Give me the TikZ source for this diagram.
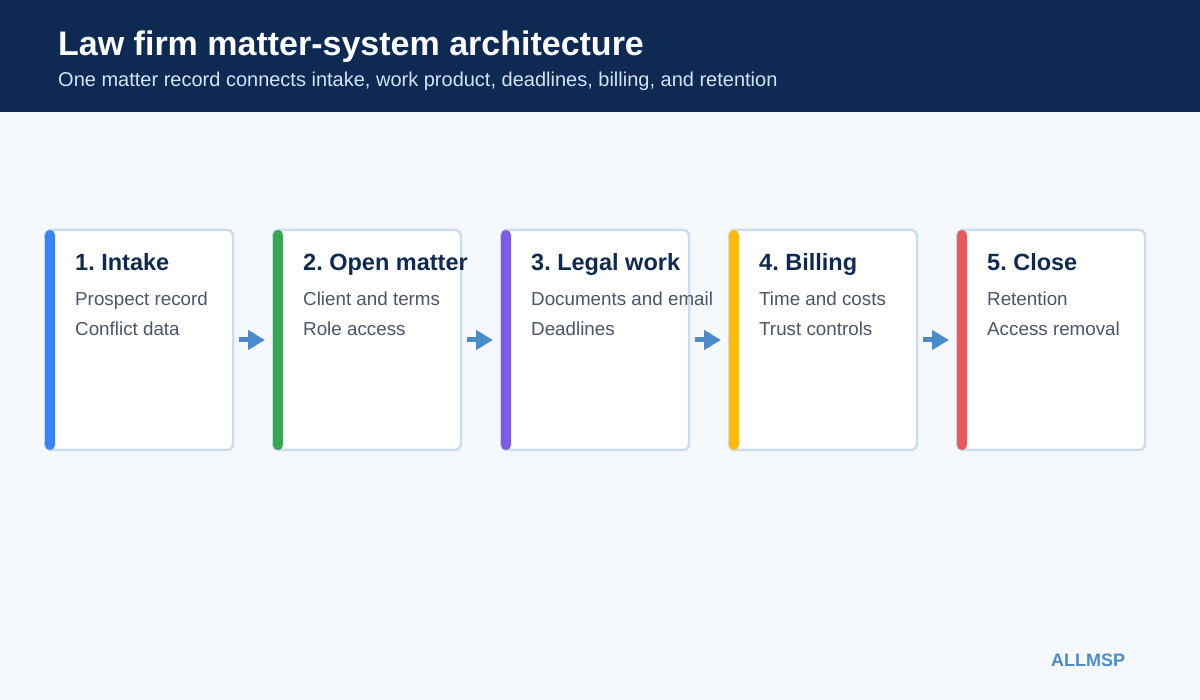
\documentclass[tikz,border=0pt]{standalone}
\usepackage{fontspec}
\setmainfont{Liberation Sans}
\usepackage{xcolor}
\usetikzlibrary{arrows.meta, positioning}
\frenchspacing

\definecolor{headnavy}{HTML}{0F2A52}
\definecolor{pagebg}{HTML}{F5F9FE}
\definecolor{subtext}{HTML}{D2E3F5}
\definecolor{bodygrey}{HTML}{4A5568}
\definecolor{cardedge}{HTML}{CBDDEE}
\definecolor{flowblue}{HTML}{4A8CCB}
\definecolor{barblue}{HTML}{3B82F6}
\definecolor{bargreen}{HTML}{34A853}
\definecolor{barpurple}{HTML}{7B5CE5}
\definecolor{baryellow}{HTML}{FBBC05}
\definecolor{barred}{HTML}{E85A5A}

\begin{document}
\begin{tikzpicture}[x=1pt,y=-1pt,node distance=228pt,on grid]
  \tikzstyle{card}=[draw=cardedge, line width=2.5pt, fill=white, rounded corners=6pt,
    minimum width=188pt, minimum height=220pt, outer sep=0pt]
  \tikzstyle{cardtitle}=[anchor=base west, inner sep=0pt, text=headnavy,
    font=\bfseries\fontsize{23.5}{28}\selectfont]
  \tikzstyle{cardbody}=[anchor=base west, inner sep=0pt, text=bodygrey,
    font=\fontsize{18.8}{22}\selectfont]
  \tikzstyle{flow}=[color=flowblue, line width=5pt, shorten <=6pt, shorten >=8pt,
    -{Triangle[length=17pt,width=19pt]}]

  \useasboundingbox (0,0) rectangle (1200,700);
  \fill[pagebg] (0,0) rectangle (1200,700);
  \fill[headnavy] (0,0) rectangle (1200,112);

  \node[anchor=base west, inner sep=0pt, text=white, font=\bfseries\fontsize{34}{40}\selectfont]
    (title) at (58,56) {Law firm matter-system architecture};
  \node[anchor=base west, inner sep=0pt, text=subtext, font=\fontsize{20}{24}\selectfont]
    (subtitle) at (58,87) {One matter record connects intake, work product, deadlines, billing, and retention};

  % stage cards
  \node[card](intake) at (139,340) {};
  \node[card](open)[right of=intake] {};
  \node[card](legal)[right of=open] {};
  \node[card](billing)[right of=legal] {};
  \node[card](close)[right of=billing] {};

  % coloured side bars
  \fill[barblue, rounded corners=5pt] (intake.north west) rectangle ([xshift=10pt]intake.south west);
  \fill[bargreen, rounded corners=5pt] (open.north west) rectangle ([xshift=10pt]open.south west);
  \fill[barpurple, rounded corners=5pt] (legal.north west) rectangle ([xshift=10pt]legal.south west);
  \fill[baryellow, rounded corners=5pt] (billing.north west) rectangle ([xshift=10pt]billing.south west);
  \fill[barred, rounded corners=5pt] (close.north west) rectangle ([xshift=10pt]close.south west);

  % card texts
  \node[cardtitle](intake-t) at ([xshift=30pt,yshift=-40.7pt]intake.north west) {1. Intake};
  \node[cardbody](intake-b1) at ([xshift=30pt,yshift=-76pt]intake.north west) {Prospect record};
  \node[cardbody](intake-b2) at ([xshift=30pt,yshift=-105.5pt]intake.north west) {Conflict data};
  \node[cardtitle](open-t) at ([xshift=30pt,yshift=-40.7pt]open.north west) {2. Open matter};
  \node[cardbody](open-b1) at ([xshift=30pt,yshift=-76pt]open.north west) {Client and terms};
  \node[cardbody](open-b2) at ([xshift=30pt,yshift=-105.5pt]open.north west) {Role access};
  \node[cardtitle](legal-t) at ([xshift=30pt,yshift=-40.7pt]legal.north west) {3. Legal work};
  \node[cardbody](legal-b1) at ([xshift=30pt,yshift=-76pt]legal.north west) {Documents and email};
  \node[cardbody](legal-b2) at ([xshift=30pt,yshift=-105.5pt]legal.north west) {Deadlines};
  \node[cardtitle](billing-t) at ([xshift=30pt,yshift=-40.7pt]billing.north west) {4. Billing};
  \node[cardbody](billing-b1) at ([xshift=30pt,yshift=-76pt]billing.north west) {Time and costs};
  \node[cardbody](billing-b2) at ([xshift=30pt,yshift=-105.5pt]billing.north west) {Trust controls};
  \node[cardtitle](close-t) at ([xshift=30pt,yshift=-40.7pt]close.north west) {5. Close};
  \node[cardbody](close-b1) at ([xshift=30pt,yshift=-76pt]close.north west) {Retention};
  \node[cardbody](close-b2) at ([xshift=30pt,yshift=-105.5pt]close.north west) {Access removal};

  \path[flow]
  (intake)  edge (open)
  (open)    edge (legal)
  (legal)   edge (billing)
  (billing) edge (close);

  \node[anchor=base west, inner sep=0pt, text=flowblue, font=\bfseries\fontsize{18}{21}\selectfont]
    (brand) at (1051,666) {ALLMSP};
\end{tikzpicture}
\end{document}
